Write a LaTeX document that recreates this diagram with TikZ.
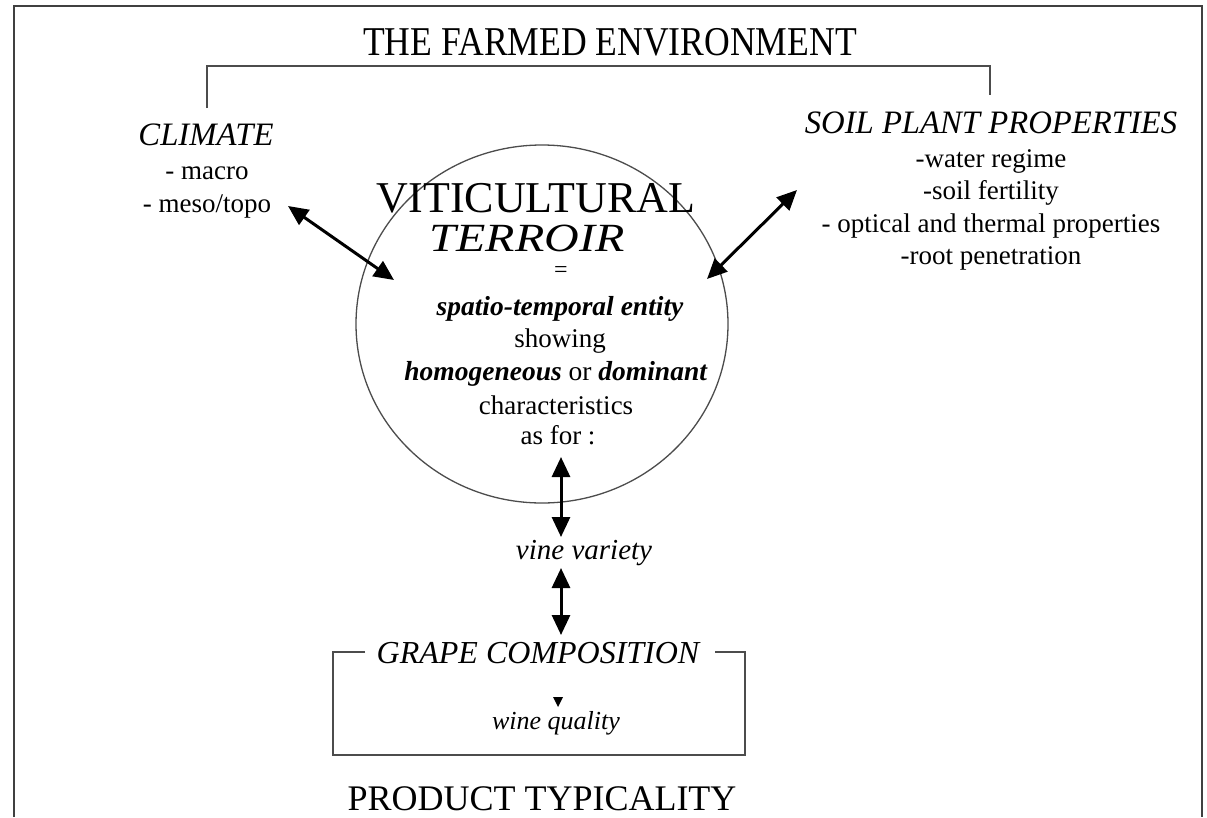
\documentclass[tikz,border=0pt]{standalone}
\usepackage{fontspec}
\setmainfont{Liberation Serif}
\usetikzlibrary{arrows.meta,shapes.geometric}
\newcommand{\fbody}{\fontsize{27}{33}\selectfont}
\begin{document}
\begin{tikzpicture}[x=1pt,y=-1pt,
  frameline/.style={line width=2.6pt, draw=black!75},
  thinline/.style={line width=1.6pt, draw=black!70},
  bigarrow/.style={line width=3pt, {Triangle[length=20pt,width=18pt]}-{Triangle[length=20pt,width=18pt]}},
  txt/.style={inner sep=0pt, align=center},
  head/.style={txt, font=\fontsize{32.7}{38}\selectfont\itshape},
  body/.style={txt, font=\fbody}]
\useasboundingbox (0,0) rectangle (1207,817);
\fill[white] (0,0) rectangle (1207,817);
% outer frame (open at the bottom)
\draw[frameline] (14,817) -- (14,6) -- (1202,6) -- (1202,817);
% title
\node[txt, font=\fontsize{35.6}{40}\selectfont] (title) at (610,42) {\scalebox{1}[1.15]{THE FARMED ENVIRONMENT}};
% bracket
\coordinate (bl) at (207,108);
\coordinate (br) at (990,95);
\draw[thinline] (bl) -- (207,66) -- (990,66) -- (br);
% climate
\node[head] (climate) at (206,135) {CLIMATE};
\node[body] (climlist) at (207,193) {- macro\\- meso/topo};
% soil
\node[head] (soil) at (991,123) {SOIL PLANT PROPERTIES};
\node[body, font=\fontsize{27}{32.5}\selectfont] (soillist) at (991,210) {-water regime\\-soil fertility\\- optical and thermal properties\\-root penetration};
% terroir circle
\node[draw=black!70, line width=1.3pt, ellipse, minimum width=372pt, minimum height=358pt, inner sep=0pt] (circ) at (542,324) {};
\node[txt, font=\fontsize{44}{48}\selectfont] (vit) at (536,198) {VITICULTURAL};
\node[txt, font=\fontsize{40}{44}\selectfont\itshape] (terroir) at (527,238) {\scalebox{1.2}[1]{TERROIR}};
\node[txt, font=\fontsize{24}{26}\selectfont] (eq) at (561,272) {=};
\node[body, font=\fontsize{27.5}{33}\selectfont\bfseries\itshape] (spatio) at (560,309) {spatio-temporal entity};
\node[body] (showing) at (560,341) {showing};
\node[body, font=\fontsize{27.5}{33}\selectfont] (homog) at (556,374) {\textbf{\textit{homogeneous}} or \textbf{\textit{dominant}}};
\node[body] (charac) at (556,405) {characteristics};
\node[body] (asfor) at (558,435) {as for :};
% climate & soil arrows
\coordinate (ca1) at (288,206);
\coordinate (ca2) at (394,280);
\draw[bigarrow] (ca1) -- (ca2);
\coordinate (sa1) at (797,190);
\coordinate (sa2) at (707,279);
\draw[bigarrow] (sa1) -- (sa2);
% vine variety
\node[txt, font=\fontsize{29}{33}\selectfont\itshape] (vine) at (584,553) {vine variety};
\coordinate (va1) at (561,457);
\coordinate (va2) at (561,537);
\draw[bigarrow] (va1) -- (va2);
\coordinate (vb1) at (561,568);
\coordinate (vb2) at (561,635);
\draw[bigarrow] (vb1) -- (vb2);
% grape composition box
\node[txt, font=\fontsize{32}{36}\selectfont\itshape] (grape) at (538,653) {GRAPE COMPOSITION};
\draw[thinline] (365,652) -- (333,652) -- (333,755) -- (745,755) -- (745,652) -- (715,652);
\fill (553,697) -- (563,697) -- (558,707) -- cycle;
\node[txt, font=\fontsize{26}{30}\selectfont\itshape] (wine) at (556,723) {wine quality};
% product typicality
\node[txt, font=\fontsize{36}{40}\selectfont] (typ) at (542,799) {PRODUCT TYPICALITY};
\end{tikzpicture}
\end{document}
